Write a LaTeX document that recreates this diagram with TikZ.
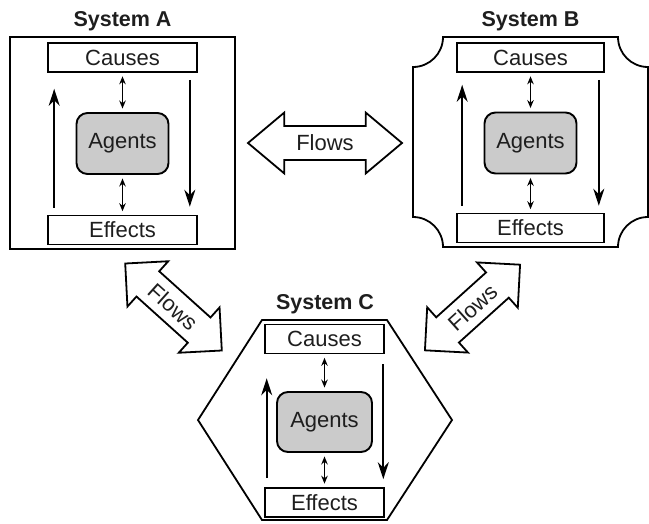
\documentclass[tikz,border=0pt]{standalone}
\usepackage{fontspec}
\setmainfont{Liberation Sans}
\usetikzlibrary{shapes.arrows,arrows.meta}
\definecolor{agentgray}{RGB}{203,203,203}
\definecolor{inkgray}{RGB}{30,30,30}

\begin{document}
\begin{tikzpicture}[x=1pt,y=-1pt,
  every node/.style={font=\fontsize{22}{26}\selectfont, text=inkgray},
  systitle/.style={font=\fontsize{21.5}{26}\selectfont\bfseries, anchor=base},
  stagebox/.style={draw, line width=1.6pt, inner sep=0pt, minimum height=29pt},
  agentbox/.style={draw, line width=1.9pt, fill=agentgray, rounded corners=11pt,
    minimum width=92pt, minimum height=61pt, inner sep=0pt},
  border/.style={line width=1.8pt, line join=miter},
  cyclearrow/.style={line width=1.8pt, -{Stealth[length=17pt,width=11pt]}},
  linkarrow/.style={line width=1.3pt,
    {Stealth[length=8pt,width=6.5pt]}-{Stealth[length=8pt,width=6.5pt]},
    shorten <=3.5pt, shorten >=3.5pt},
  flowarrow/.style={draw, line width=1.8pt, fill=white, double arrow,
    double arrow head extend=13.5pt, double arrow tip angle=80,
    minimum height=154pt, minimum width=60pt, inner sep=8pt}
]
\useasboundingbox (0,0) rectangle (649,523);
%%
%% System A
\node[systitle] (titleA) at (122.5,26.5) {System A};
\draw[border] (10,37) rectangle (235,249);
\node[stagebox, minimum width=149pt] (causesA) at (122.5,57.5) {Causes};
\node[agentbox] (agentsA) at (122.5,143.5) {Agents};
\node[stagebox, minimum width=149pt] (effectsA) at (122.5,230) {Effects};
\draw[linkarrow] (causesA) -- (agentsA);
\draw[linkarrow] (agentsA) -- (effectsA);
\draw[cyclearrow] ([xshift=7pt,yshift=7pt]effectsA.north west) -- ([xshift=7pt,yshift=-16pt]causesA.south west);
\draw[cyclearrow] ([xshift=-8pt,yshift=-7pt]causesA.south east) -- ([xshift=-8pt,yshift=8pt]effectsA.north east);
%%
%% System B (hollow corners)
\node[systitle] (titleB) at (530.5,26.5) {System B};
\draw[border] (443,37) -- (618,37)
  .. controls (618,53.6) and (631.4,67) .. (648,67) -- (648,217)
  .. controls (631.4,217) and (618,230.4) .. (618,247) -- (443,247)
  .. controls (443,230.4) and (429.6,217) .. (413,217) -- (413,67)
  .. controls (429.6,67) and (443,53.6) .. (443,37) -- cycle;
\node[stagebox, minimum width=147pt] (causesB) at (530.5,57.5) {Causes};
\node[agentbox] (agentsB) at (530.5,143) {Agents};
\node[stagebox, minimum width=147pt] (effectsB) at (530.5,228) {Effects};
\draw[linkarrow] (causesB) -- (agentsB);
\draw[linkarrow] (agentsB) -- (effectsB);
\draw[cyclearrow] ([xshift=6pt,yshift=7pt]effectsB.north west) -- ([xshift=6pt,yshift=-12pt]causesB.south west);
\draw[cyclearrow] ([xshift=-6pt,yshift=-7pt]causesB.south east) -- ([xshift=-6pt,yshift=7pt]effectsB.north east);
%%
%% System C (hexagon)
\node[systitle] (titleC) at (325,309) {System C};
\draw[border] (262,320) -- (387,320) -- (452,420) -- (387,520) -- (262,520) -- (198,420) -- cycle;
\node[stagebox, minimum width=119pt] (causesC) at (324.5,339) {Causes};
\node[agentbox, minimum width=95pt, minimum height=60pt] (agentsC) at (324.5,422) {Agents};
\node[stagebox, minimum width=119pt] (effectsC) at (324.5,502.5) {Effects};
\draw[linkarrow] (causesC) -- (agentsC);
\draw[linkarrow] (agentsC) -- (effectsC);
\draw[cyclearrow] ([xshift=2.5pt,yshift=9pt]effectsC.north west) -- ([xshift=2.5pt,yshift=-24pt]causesC.south west);
\draw[cyclearrow] ([xshift=-1.5pt,yshift=-10pt]causesC.south east) -- ([xshift=-1.5pt,yshift=8pt]effectsC.north east);
%%
%% Flows between the systems
\node[flowarrow] (flowsAB) at (325,143) {Flows};
\node[flowarrow, minimum height=130pt, double arrow tip angle=90, rotate=-42] (flowsAC) at (173.5,307) {Flows};
\node[flowarrow, minimum height=128pt, double arrow tip angle=90, rotate=42] (flowsBC) at (472.5,307.5) {Flows};
%%
\end{tikzpicture}
\end{document}
